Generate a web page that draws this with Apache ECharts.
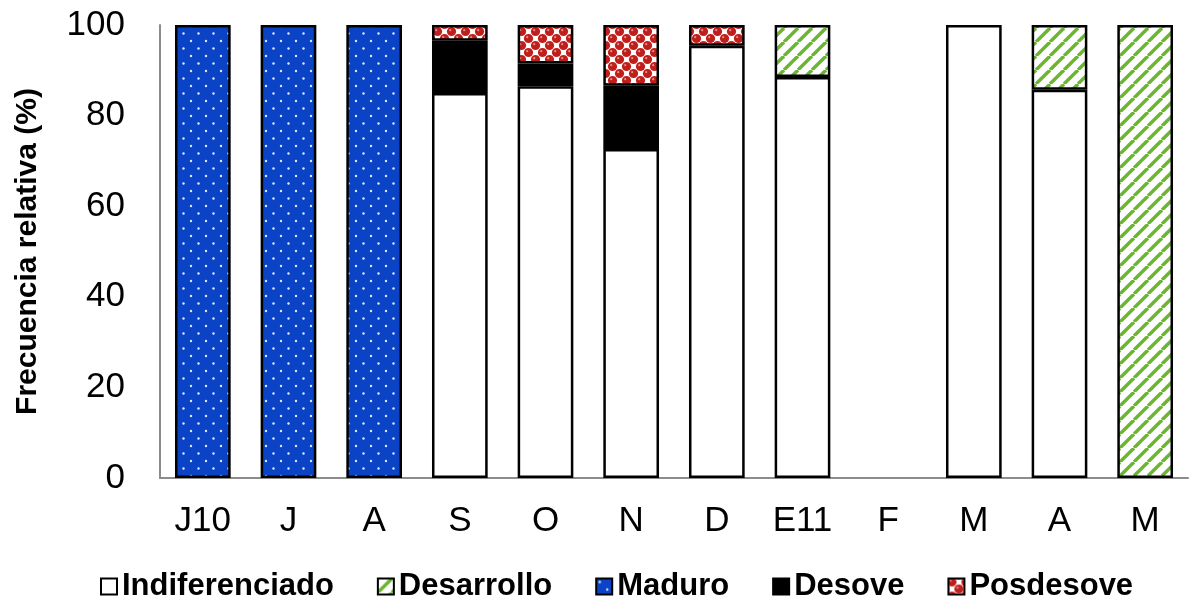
<!DOCTYPE html>
<html><head><meta charset="utf-8">
<script src="https://cdn.jsdelivr.net/npm/echarts@6/dist/echarts.min.js"></script>
<style>html,body{margin:0;padding:0;background:#fff}#c{width:1189px;height:601px}</style>
</head><body><div id="c"></div>
<script>
const categories = ['J10','J','A','S','O','N','D','E11','F','M','A','M'];
const indiferenciado = [null,null,null,85,86.5,72.6,95.4,88.5,null,100,85.7,null];
const desarrollo     = [null,null,null,null,null,null,null,11.5,null,null,14.3,100];
const maduro         = [100,100,100,null,null,null,null,null,null,null,null,null];
const desove         = [null,null,null,11.5,5,14,null,null,null,null,null,null];
const posdesove      = [null,null,null,3.5,8.5,13.4,4.6,null,null,null,null,null];
const yTicks = [0,20,40,60,80,100];

function mk(w,h,draw){const c=document.createElement('canvas');c.width=w;c.height=h;const g=c.getContext('2d');draw(g);return {image:c,repeat:'repeat'};}
const dotPat = mk(15,15,g=>{g.fillStyle='#0b43c6';g.fillRect(0,0,15,15);g.fillStyle='#dfe8ff';
  g.beginPath();g.arc(3.5,3.5,1.2,0,Math.PI*2);g.fill();g.beginPath();g.arc(11,11,1.2,0,Math.PI*2);g.fill();});
const stripePat = mk(14,14,g=>{g.fillStyle='#fff';g.fillRect(0,0,14,14);g.strokeStyle='#6cb530';g.lineWidth=3.4;
  for(let k=-14;k<=28;k+=14){g.beginPath();g.moveTo(k,14);g.lineTo(k+14,0);g.stroke();}});
const redPat = mk(14,14,g=>{g.fillStyle='#fff';g.fillRect(0,0,14,14);g.fillStyle='#c01e1a';
  const pts=[];for(let a=-14;a<=28;a+=14)for(let b=-14;b<=28;b+=14){pts.push([a+3.5,b+3.5]);pts.push([a+10.5,b+10.5]);}
  pts.forEach(p=>{g.beginPath();g.arc(p[0],p[1],4.6,0,Math.PI*2);g.fill();});
  g.fillStyle='rgba(255,255,255,0.5)';pts.forEach(p=>{g.beginPath();g.arc(p[0]-1.3,p[1]-1.3,1.1,0,Math.PI*2);g.fill();});});

const chart = echarts.init(document.getElementById('c'),null,{renderer:'canvas'});
const base = {type:'bar',stack:'t',barCategoryGap:'35%'};
function ser(name,data,color){return Object.assign({},base,{name,data,itemStyle:{color,borderColor:'#000',borderWidth:2.5}});}
chart.setOption({
  animation:false,
  textStyle:{fontFamily:'Liberation Sans, Arial, sans-serif'},
  grid:{left:160,right:1,top:25,bottom:123},
  legend:{top:566,left:95,itemWidth:16,itemHeight:16,itemGap:43,icon:'rect',
    textStyle:{fontSize:31,fontWeight:'bold',color:'#000',padding:[0,0,0,0]},
    data:['Indiferenciado','Desarrollo','Maduro','Desove','Posdesove']},
  xAxis:{type:'category',data:categories,axisTick:{show:false},
    axisLine:{lineStyle:{color:'#8c8c8c',width:2}},
    axisLabel:{fontSize:35,color:'#000',margin:26}},
  yAxis:{type:'value',min:0,max:100,interval:20,splitLine:{show:false},
    axisLine:{show:true,lineStyle:{color:'#8c8c8c',width:2}},axisTick:{show:false},
    axisLabel:{fontSize:35,color:'#000',margin:35,formatter:v=>yTicks.includes(v)?String(v):''},
    name:'Frecuencia relativa (%)',nameLocation:'middle',nameGap:132,nameRotate:90,
    nameTextStyle:{fontSize:30,fontWeight:'bold',color:'#000',verticalAlign:'middle'}},
  series:[
    ser('Indiferenciado',indiferenciado,'#ffffff'),
    ser('Desarrollo',desarrollo,stripePat),
    ser('Maduro',maduro,dotPat),
    ser('Desove',desove,'#000000'),
    ser('Posdesove',posdesove,redPat)
  ]
});
</script></body></html>
